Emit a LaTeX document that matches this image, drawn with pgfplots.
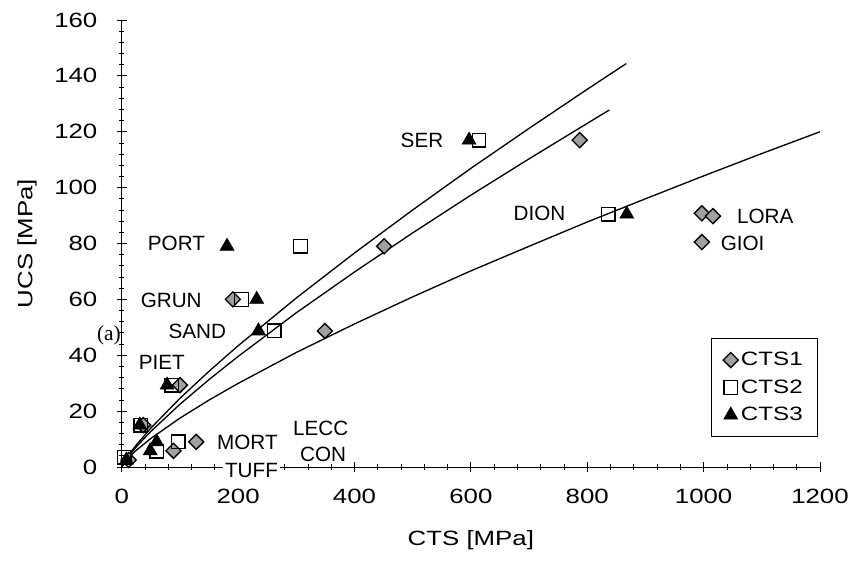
\documentclass[border=0pt]{standalone}
\usepackage{fontspec}
\setmainfont{Liberation Sans}
\newfontfamily\widefont[FakeStretch=1.25]{Liberation Sans}
\newfontfamily\seriffont{Liberation Serif}
\usepackage{pgfplots}
\pgfplotsset{compat=1.18}
\definecolor{dgray}{HTML}{A0A0A0}
\newcommand{\fs}{\fontsize{15.5}{18}\selectfont}
\newcommand{\tfs}{\widefont\fontsize{15.5}{18}\selectfont}
\newcommand{\lfs}{\widefont\fontsize{14.5}{17}\selectfont}
\begin{document}
\begin{tikzpicture}
\useasboundingbox (0,0) rectangle (637.5pt,420.75pt);
\begin{axis}[
  at={(91.3pt,70.5pt)}, anchor=south west,
  scale only axis, width=523.7pt, height=335.25pt,
  xmin=0,xmax=1200,ymin=0,ymax=160,
  axis x line=bottom, axis y line=left,
  axis line style={-, line width=0.75pt, black},
  xtick={0,200,...,1200}, ytick={0,20,...,160},
  minor x tick num=4, minor y tick num=4,
  tick align=center, major tick length=7.5pt, minor tick length=4pt,
  every tick/.style={black, line width=0.6pt},
  /pgf/number format/assume math mode=true,
  /pgf/number format/1000 sep={},
  tick label style={font=\tfs},
  xticklabel shift=9pt, yticklabel shift=11pt,
  label style={font=\tfs},
  xlabel={CTS [MPa]}, ylabel={UCS [MPa]},
  xlabel style={at={(axis description cs:0.5,-0.163)}, anchor=center},
  ylabel style={at={(axis description cs:-0.1356,0.5)}, anchor=center},
  clip=false,
  legend style={at={(axis description cs:0.997,0.289)}, anchor=north east,
    draw=black, line width=0.75pt, font=\lfs, row sep=5pt,
    inner xsep=9pt, inner ysep=8.5pt},
  legend cell align=left,
]
% fitted curves
\addplot[black, line width=1pt, forget plot] coordinates {
(0,0) (10,3.72) (25,7.89) (50,13.92) (100,24.58) (150,34.27) (200,43.4) (300,60.5) (400,76.6) (500,92.0) (600,106.9) (700,121.2) (800,135.2) (867,144.4)};
\addplot[black, line width=1pt, forget plot] coordinates {
(0,0) (10,3.41) (25,7.22) (50,12.73) (100,22.45) (150,31.29) (200,39.57) (300,55.2) (400,69.8) (500,83.8) (600,97.3) (700,110.3) (800,123.0) (838,127.8)};
\addplot[black, line width=1pt, forget plot] coordinates {
(0,0) (10,2.94) (25,5.98) (50,10.22) (100,17.49) (150,23.96) (200,29.92) (300,41.0) (400,51.2) (500,60.9) (600,70.2) (700,79.0) (800,87.7) (900,96.0) (1000,104.2) (1100,112.2) (1200,120.0)};
% CTS1
\addplot[only marks, mark=square*, mark size=4pt, mark options={rotate=45, fill=dgray, draw=black, line width=1pt}] coordinates {
(12,2.5) (37,15) (89,5.8) (128,9) (100,29.3) (191,60) (349,48.7) (451,79) (787,117) (997,90.8) (1016,89.8) (997,80.5)};
\addlegendentry{CTS1}
% CTS2
\addplot[only marks, mark=square, mark size=5.1pt, mark options={draw=black, line width=1pt}] coordinates {
(4,3.5) (33,15) (60,5.6) (97,9) (86,29.3) (206,60) (262,48.7) (307,79) (614,117) (836,90.5)};
\addlegendentry{CTS2}
% CTS3
\addplot[only marks, mark=triangle*, mark size=6pt, mark options={fill=black, draw=black, line width=0.5pt}] coordinates {
(8,2.5) (31,15) (49,5.8) (60,9) (78,29.3) (232,60) (235,48.7) (181,79) (597,117) (868,90.5)};
\addlegendentry{CTS3}
\node[font=\fs] at (axis cs:516,117) {SER};
\node[font=\fs] at (axis cs:718,90.8) {DION};
\node[font=\fs] at (axis cs:1106,89.8) {LORA};
\node[font=\fs] at (axis cs:1067,80) {GIOI};
\node[font=\fs] at (axis cs:94,80) {PORT};
\node[font=\fs] at (axis cs:85,59.8) {GRUN};
\node[font=\fs] at (axis cs:130,48.7) {SAND};
\node[font=\fs] at (axis cs:69,37.3) {PIET};
\node[font=\fs] at (axis cs:216,8.7) {MORT};
\node[font=\fs] at (axis cs:342,13.8) {LECC};
\node[font=\fs] at (axis cs:346,4.6) {CON};
\coordinate (tuff) at (axis cs:223,-1.1);
\coordinate (alab) at (axis cs:-22,47.2);
\end{axis}
\node[font=\fs, fill=white, inner sep=1.5pt] at (tuff) {TUFF};
\node[font=\seriffont\fontsize{16}{18}\selectfont, inner sep=0pt] at (alab) {(a)};
\end{tikzpicture}
\end{document}
